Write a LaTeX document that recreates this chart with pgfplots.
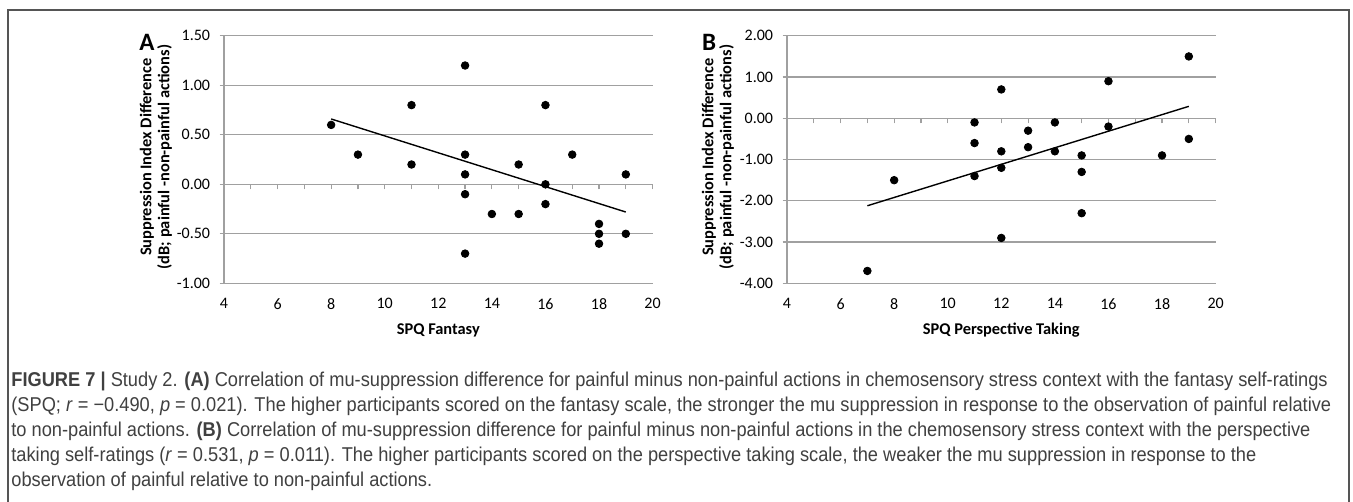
\documentclass[border=0pt]{standalone}
\usepackage{pgfplots}
\pgfplotsset{compat=1.18}
\usepackage{fontspec}
\setmainfont{Carlito}
\newfontfamily\capfont[FakeStretch=0.912]{Liberation Sans}
\definecolor{gridgrey}{HTML}{A0A0A0}
\definecolor{framegrey}{HTML}{555555}
\definecolor{captext}{HTML}{404040}

\pgfplotsset{
  panel/.style={
    scale only axis, width=214.3bp, height=123.75bp,
    anchor=south west,
    xmin=4, xmax=20, xtick={4,6,...,20},
    axis x line*=bottom, axis y line*=left,
    axis line style={gridgrey, line width=0.6bp},
    ymajorgrids, grid style={gridgrey, line width=0.6bp},
    x tick style={draw=none},
    y tick style={gridgrey, line width=0.6bp},
    tick align=outside, major tick length=2.25bp,
    tick label style={font=\fontsize{8bp}{9bp}\selectfont},
    /pgf/number format/assume math mode=true,
    yticklabel style={/pgf/number format/fixed, /pgf/number format/fixed zerofill,
      /pgf/number format/precision=2, anchor=east, inner sep=0pt, xshift=-4.5bp},
    xticklabel style={anchor=center, yshift=-8bp},
    label style={font=\bfseries\fontsize{8.2bp}{9bp}\selectfont},
    ylabel style={align=center, anchor=center},
    xlabel style={anchor=center, at={(axis description cs:0.5,-0.189)}},
  },
  zeroline/.style={
    scale only axis, width=214.3bp, height=123.75bp,
    anchor=south west,
    xmin=4, xmax=20, xtick={4,5,...,20}, xticklabels={},
    axis x line*=middle, axis y line=none,
    x axis line style={gridgrey, line width=0.6bp, -},
    x tick style={gridgrey, line width=0.6bp},
    tick align=outside, major tick length=2.5bp,
  },
  dots/.style={only marks, mark=*, mark size=1.9bp, black},
  trend/.style={black, line width=0.7bp, no marks},
}

\begin{document}
\begin{tikzpicture}
\useasboundingbox (0,0) rectangle (676.5bp,-251bp);
% figure frame
\draw[framegrey, line width=1bp] (4bp,-260bp) -- (4bp,-5bp) -- (674.5bp,-5bp) -- (674.5bp,-260bp);

% panel A
\begin{axis}[zeroline, at={(112bp,-141.65bp)}, ymin=-1, ymax=1.5]
\end{axis}
\begin{axis}[panel, at={(112bp,-141.65bp)},
  ymin=-1, ymax=1.5, ytick={-1,-0.5,...,1.5},
  xlabel={SPQ Fantasy},
  ylabel={Suppression Index Difference\\(dB; painful -non-painful actions)},
  ylabel style={at={(axis description cs:-0.159,0.51)}},
]
\addplot[dots] coordinates {
  (8,0.6) (9,0.3) (11,0.8) (11,0.2) (13,1.2) (13,0.3) (13,0.1) (13,-0.1)
  (13,-0.7) (14,-0.3) (15,0.2) (15,-0.3) (16,0.8) (16,0.0) (16,-0.2)
  (17,0.3) (18,-0.4) (18,-0.5) (18,-0.6) (19,0.1) (19,-0.5)};
\addplot[trend] coordinates {(8,0.66) (19,-0.28)};
\end{axis}

% panel B
\begin{axis}[zeroline, at={(393.5bp,-141.65bp)}, ymin=-4, ymax=2]
\end{axis}
\begin{axis}[panel, at={(393.5bp,-141.65bp)},
  ymin=-4, ymax=2, ytick={-4,-3,...,2},
  xlabel={SPQ Perspective Taking},
  ylabel={Suppression Index Difference\\(dB; painful -non-painful actions)},
  ylabel style={at={(axis description cs:-0.161,0.51)}},
]
\addplot[dots] coordinates {
  (7,-3.7) (8,-1.5) (11,-0.1) (11,-0.6) (11,-1.4) (12,0.7) (12,-0.8)
  (12,-1.2) (12,-2.9) (13,-0.3) (13,-0.7) (14,-0.1) (14,-0.8) (15,-0.9)
  (15,-1.3) (15,-2.3) (16,0.9) (16,-0.2) (18,-0.9) (19,1.5) (19,-0.5)};
\addplot[trend] coordinates {(7,-2.12) (19,0.29)};
\end{axis}

% panel letters
\node[font=\bfseries\fontsize{12.5bp}{14bp}\selectfont] at (73.5bp,-21bp) {A};
\node[font=\bfseries\fontsize{12.5bp}{14bp}\selectfont] at (354.5bp,-21bp) {B};

% caption
\begin{scope}[every node/.style={anchor=base west, inner sep=0pt, text=captext,
    font=\capfont\fontsize{10bp}{12.5bp}\selectfont}]
\node at (5.5bp,-193bp) {\textbf{FIGURE 7 |} Study 2. \textbf{(A)} Correlation of mu-suppression difference for painful minus non-painful actions in chemosensory stress context with the fantasy self-ratings};
\node at (5.5bp,-205.5bp) {(SPQ; \textit{r} = −0.490, \textit{p} = 0.021). The higher participants scored on the fantasy scale, the stronger the mu suppression in response to the observation of painful relative};
\node at (5.5bp,-218bp) {to non-painful actions. \textbf{(B)} Correlation of mu-suppression difference for painful minus non-painful actions in the chemosensory stress context with the perspective};
\node at (5.5bp,-230.5bp) {taking self-ratings (\textit{r} = 0.531, \textit{p} = 0.011). The higher participants scored on the perspective taking scale, the weaker the mu suppression in response to the};
\node at (5.5bp,-243bp) {observation of painful relative to non-painful actions.};
\end{scope}
\end{tikzpicture}
\end{document}
